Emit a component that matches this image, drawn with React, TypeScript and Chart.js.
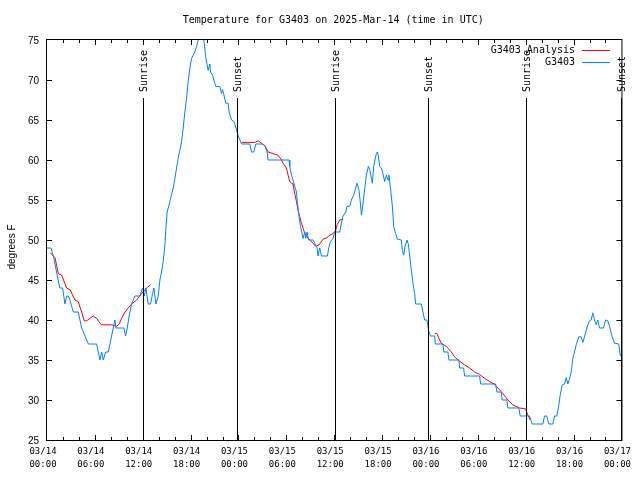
import React, { useEffect, useRef } from 'react';
import { Chart, registerables } from 'chart.js';

Chart.register(...registerables);

// Hours since 2025-03-14 00:00 UTC
const blueHours = [
  0, 0.5, 0.8, 1.0, 1.2, 1.6, 1.96, 2.25, 2.46, 2.67, 2.88, 3.09, 3.3, 3.92, 4.13, 4.34, 4.76, 5.18, 6.22, 6.43,
  6.64, 6.85, 7.05, 7.35, 7.68, 7.89, 8.1, 8.3, 8.51, 8.64, 9.64, 9.85, 10.06, 10.31, 10.6, 11.02, 11.65, 11.98, 12.2, 12.4,
  12.68, 12.98, 13.23, 13.4, 13.65, 13.94, 14.15, 14.36, 14.56, 14.78, 14.9, 15.06, 15.31, 15.49, 15.82, 16.03, 16.24, 16.44, 16.65, 16.87,
  17.07, 17.28, 17.49, 17.69, 17.91, 18.12, 18.32, 18.53, 18.75, 18.95, 19.16, 19.53, 19.66, 19.78, 19.91, 20.07, 20.2, 20.41, 20.5, 20.75,
  20.91, 21.16, 21.66, 21.88, 22.0, 22.16, 22.41, 22.7, 22.83, 23.13, 23.45, 23.75, 23.95, 24.38, 25.42, 25.63, 25.92, 26.17, 27.01, 27.3,
  27.59, 27.71, 30.34, 30.43, 30.64, 30.84, 31.05, 31.27, 31.34, 31.47, 31.59, 31.77, 31.97, 32.09, 32.31, 32.43, 32.6, 32.77, 33.35, 33.56,
  33.85, 33.97, 34.18, 34.4, 35.15, 35.31, 35.53, 35.85, 36.06, 36.69, 36.9, 37.1, 37.44, 37.6, 37.94, 38.15, 38.44, 38.69, 38.86, 39.11,
  39.28, 39.41, 39.53, 39.7, 39.86, 40.03, 40.28, 40.45, 40.66, 40.78, 40.95, 41.11, 41.28, 41.41, 41.53, 41.7, 41.91, 42.11, 42.32, 42.54,
  42.74, 42.86, 43.08, 43.29, 43.45, 43.7, 43.91, 44.42, 44.54, 44.7, 44.87, 45.12, 45.3, 45.45, 45.67, 45.87, 46.08, 46.21, 46.92, 47.12,
  47.33, 47.62, 47.83, 48.05, 48.59, 48.67, 49.62, 49.75, 50.25, 50.38, 51.63, 51.72, 52.22, 52.34, 54.22, 54.35, 56.22, 56.39, 56.94, 57.06,
  57.64, 57.76, 59.14, 59.31, 60.48, 60.82, 62.15, 62.36, 62.64, 62.9, 63.4, 63.61, 63.9, 64.15, 64.32, 64.57, 64.86, 65.08, 65.28, 65.49,
  65.7, 65.9, 66.12, 66.33, 66.52, 66.65, 66.95, 67.16, 67.37, 67.58, 67.78, 67.99, 68.2, 68.41, 68.62, 68.83, 69.03, 69.25, 69.75, 70.0,
  70.29, 70.5, 70.84, 71.12, 71.66, 71.84, 71.95,
];
const blueTemps = [
  49, 49, 48, 47, 46, 44, 44, 42, 43, 43, 42.5, 41.7, 41, 41, 40, 39, 38, 37, 37, 36,
  35, 36, 35, 36, 36, 37, 38, 39, 40, 39, 39, 38, 39, 40.6, 42, 43, 43, 44, 43, 44,
  42, 42, 43.3, 44, 42, 43, 45, 46, 47.3, 49.4, 51.5, 53.5, 54.4, 55.2, 56.5, 57.7, 59, 60.2, 61.2, 62.3,
  64, 66, 67.7, 69.8, 71.5, 72.7, 73.1, 73.5, 74.2, 75, 76, 76, 75, 74, 72.7, 71.9, 71.2, 72, 71, 70.6,
  70, 69.2, 69.2, 68.3, 68.8, 68.2, 67.1, 67.1, 66, 65, 64.8, 63.75, 63.1, 62, 62, 61, 61, 62, 62, 61.8,
  61, 60, 60, 59.2, 58.1, 57.5, 56.7, 56, 55, 54, 52.9, 51.7, 50.8, 50.2, 51, 50.2, 51, 50, 50, 49.6,
  49, 48, 49, 48, 48, 49, 49.8, 50.2, 51, 51, 52.1, 53, 53.5, 54.2, 54.2, 55, 55.6, 56.5, 57.1, 56.2,
  54.6, 53.1, 53.9, 55.4, 56.7, 58.1, 59.2, 58.8, 57.7, 57.1, 59.2, 60, 60.8, 61, 60.5, 59.2, 59, 58.3, 57.3, 58.1,
  57.5, 58.1, 56.2, 54.2, 51.7, 50.8, 50.1, 50, 48.7, 48.1, 49.2, 50, 49.4, 48.1, 46.2, 44.6, 43.3, 42, 42, 41,
  40, 40, 38.7, 38, 38, 37, 37, 36, 36, 35, 35, 34, 34, 33, 33, 32, 32, 31, 31, 30,
  30, 29, 29, 28, 28, 27, 27, 28, 28, 27, 27, 28, 28, 29.4, 30.6, 31.9, 32, 32.8, 32, 32.6,
  33.5, 35.2, 36, 36.9, 37.5, 37.9, 37.9, 37.2, 37.9, 38.7, 39.4, 39.9, 40, 40.9, 40, 39.4, 40, 39, 39, 40,
  39.9, 39.2, 37.9, 37.1, 37, 35.6, 35.5,
];

const redHours = [
  0.4, 1.0, 1.42, 1.84, 2.46, 2.88, 3.51, 3.92, 4.34, 4.67, 4.97, 5.38, 5.8, 6.22, 6.64, 6.85, 8.1, 8.72, 9.05, 9.35,
  9.77, 10.18, 10.6, 11.23, 11.86, 12.48, 12.98,
  18,
  24.4, 26.05, 26.46, 26.88, 27.3, 27.71, 28.34, 28.96, 29.39, 29.59, 30.01, 30.22, 30.43, 30.64, 30.84, 31.05, 31.27, 31.47, 31.68, 31.89,
  32.09, 32.31, 32.6, 32.93, 33.35, 33.68, 34.1, 34.6, 35.1, 35.44, 35.85, 36.19, 36.35, 36.69, 37.1,
  42,
  48.59, 48.87, 49.12, 49.42, 50.05, 50.68, 51.09, 51.63, 52.34, 52.97, 53.6, 54.22, 54.85, 55.47, 56.1, 56.51, 57.14, 57.76, 58.39, 59.23,
  59.98, 60.27, 60.57,
];
const redTemps = [
  48.4, 47.8, 45.8, 45.6, 44, 43.8, 42.5, 42.3, 41, 39.9, 39.9, 40.2, 40.5, 40.2, 39.6, 39.4, 39.4, 39.2, 39.5, 40.2,
  41, 41.5, 42, 42.5, 43.3, 44, 44.4,
  null,
  62.2, 62.2, 62.4, 62.1, 61.8, 61, 60.8, 60.6, 60, 59.6, 59, 58.1, 57.3, 57.1, 57, 55.8, 54.8, 53.7, 52.9, 52.1,
  51.5, 50.8, 50.4, 50, 49.6, 49.2, 49.4, 50.1, 50.3, 50.6, 50.8, 51.2, 51.9, 52.5, 52.6,
  null,
  38.3, 38.3, 37.7, 37.1, 36.7, 36, 35.4, 34.9, 34.4, 34, 33.5, 33.2, 32.7, 32.3, 32, 31.5, 30.8, 30, 29.4, 29,
  28.9, 28.1, 27.5,
];

const sunEventHours = [12.0, 23.8, 36.05, 47.8, 60.0, 71.95];
const sunEventLabels = ['Sunrise', 'Sunset', 'Sunrise', 'Sunset', 'Sunrise', 'Sunset'];
const sunLineTop = 67.75;

const yTickValues = [25, 30, 35, 40, 45, 50, 55, 60, 65, 70, 75];
const xMinorStep = 2;
const xLabelStep = 6;
const xMaxHours = 72;

const chartTitle = 'Temperature for G3403 on 2025-Mar-14 (time in UTC)';
const seriesNames = ['G3403 Analysis', 'G3403'];
const seriesColors = ['#ff0000', 'rgb(0,128,255)'];
const yAxisTitle = 'degrees F';

const MONO = '"DejaVu Sans Mono", monospace';
const SANS = '"Liberation Sans", Arial, sans-serif';

function xTickLabel(h: number): string[] {
  const hr = Math.round(h);
  const day = 14 + Math.floor(hr / 24);
  const hh = hr % 24;
  return ['03/' + day, String(hh).padStart(2, '0') + ':00'];
}

const decorPlugin = {
  id: 'decor',
  beforeDraw(chart: any) {
    const { ctx } = chart;
    ctx.save();
    ctx.fillStyle = '#ffffff';
    ctx.fillRect(0, 0, chart.width, chart.height);
    ctx.restore();
  },
  afterDatasetsDraw(chart: any) {
    const { ctx, chartArea, scales } = chart;
    const { left, right, top, bottom } = chartArea;
    const x = scales.x;
    const y = scales.y;
    ctx.save();
    ctx.strokeStyle = '#000';
    ctx.fillStyle = '#000';
    ctx.lineWidth = 1;

    // sunrise / sunset lines with labels
    const lineTopPx = y.getPixelForValue(sunLineTop);
    sunEventHours.forEach((h, i) => {
      const px = Math.round(x.getPixelForValue(h)) + 0.5;
      ctx.beginPath();
      ctx.moveTo(px, Math.round(lineTopPx));
      ctx.lineTo(px, bottom);
      ctx.stroke();
      ctx.save();
      ctx.translate(px + 1, lineTopPx - 6);
      ctx.rotate(-Math.PI / 2);
      ctx.font = '10px ' + MONO;
      ctx.textAlign = 'left';
      ctx.textBaseline = 'middle';
      ctx.fillText(sunEventLabels[i], 0, 0);
      ctx.restore();
    });

    // frame
    ctx.strokeRect(left - 0.5, top - 0.5, right - left + 1, bottom - top + 1);

    // x ticks (inward, top and bottom)
    ctx.beginPath();
    for (let h = xMinorStep; h < xMaxHours; h += xMinorStep) {
      const px = Math.round(x.getPixelForValue(h)) + 0.5;
      const len = h % xLabelStep === 0 ? 5 : 3;
      ctx.moveTo(px, bottom);
      ctx.lineTo(px, bottom - len);
      ctx.moveTo(px, top);
      ctx.lineTo(px, top + len);
    }
    // y ticks (inward, left and right)
    for (const v of yTickValues) {
      if (v === yTickValues[0] || v === yTickValues[yTickValues.length - 1]) continue;
      const py = Math.round(y.getPixelForValue(v)) + 0.5;
      ctx.moveTo(left, py);
      ctx.lineTo(left + 5, py);
      ctx.moveTo(right, py);
      ctx.lineTo(right - 5, py);
    }
    ctx.stroke();

    // title
    ctx.font = '10px ' + MONO;
    ctx.textAlign = 'center';
    ctx.textBaseline = 'middle';
    ctx.fillText(chartTitle, (left + right) / 2 - 1, 20);

    // y axis title
    ctx.save();
    ctx.translate(12, 247);
    ctx.rotate(-Math.PI / 2);
    ctx.font = '10px ' + SANS;
    ctx.textAlign = 'center';
    ctx.textBaseline = 'middle';
    ctx.fillText(yAxisTitle, 0, 0);
    ctx.restore();

    // legend
    ctx.font = '10px ' + MONO;
    ctx.textAlign = 'right';
    ctx.textBaseline = 'middle';
    seriesNames.forEach((name, i) => {
      const ly = 50 + i * 12;
      ctx.fillStyle = '#000';
      ctx.fillText(name, 575, ly);
      ctx.strokeStyle = seriesColors[i];
      ctx.beginPath();
      ctx.moveTo(582, ly + 0.5);
      ctx.lineTo(610, ly + 0.5);
      ctx.stroke();
    });
    ctx.restore();
  },
};

export default function App() {
  const canvasRef = useRef<HTMLCanvasElement | null>(null);

  useEffect(() => {
    if (!canvasRef.current) return;
    const redData = redHours.map((h, i) => ({ x: h, y: redTemps[i] }));
    const blueData = blueHours.map((h, i) => ({ x: h, y: blueTemps[i] }));
    const chart = new Chart(canvasRef.current, {
      type: 'line',
      data: {
        datasets: [
          {
            label: seriesNames[0],
            data: redData as any,
            borderColor: seriesColors[0],
            borderWidth: 1,
            pointRadius: 0,
            tension: 0,
            spanGaps: false,
            clip: 0,
            order: 2,
          },
          {
            label: seriesNames[1],
            data: blueData as any,
            borderColor: seriesColors[1],
            borderWidth: 1,
            pointRadius: 0,
            tension: 0,
            clip: 0,
            order: 1,
          },
        ],
      },
      options: {
        responsive: false,
        animation: false,
        devicePixelRatio: 1,
        layout: { padding: { top: 40, right: 18, bottom: 0, left: 0 } },
        plugins: {
          legend: { display: false },
          tooltip: { enabled: false },
          title: { display: false },
        },
        scales: {
          x: {
            type: 'linear',
            min: 0,
            max: xMaxHours,
            grid: { display: false, drawTicks: false },
            border: { display: false },
            ticks: {
              stepSize: xLabelStep,
              autoSkip: false,
              maxRotation: 0,
              minRotation: 0,
              padding: 5,
              labelOffset: -4,
              color: '#000',
              font: { family: MONO, size: 9, lineHeight: 13 / 9 },
              callback: (v: any) => xTickLabel(Number(v)),
            },
            afterFit: (s: any) => {
              s.height = 40;
            },
          },
          y: {
            min: 25,
            max: 75,
            grid: { display: false, drawTicks: false },
            border: { display: false },
            ticks: {
              stepSize: 5,
              padding: 8,
              labelOffset: 1,
              color: '#000',
              font: { family: SANS, size: 10 },
            },
            afterFit: (s: any) => {
              s.width = 47;
            },
          },
        },
      },
      plugins: [decorPlugin],
    });
    return () => chart.destroy();
  }, []);

  return (
    <div style={{ position: 'absolute', left: 0, top: 0, width: 640, height: 480 }}>
      <canvas ref={canvasRef} width={640} height={480} />
    </div>
  );
}
